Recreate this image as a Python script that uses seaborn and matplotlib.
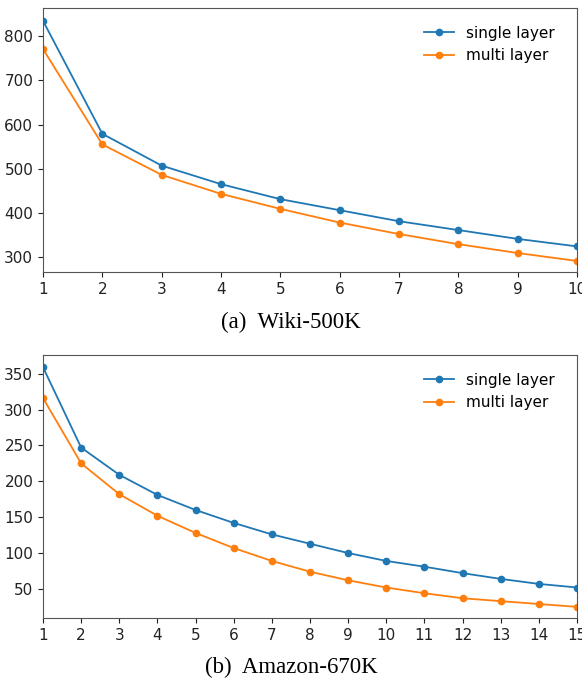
import pandas as pd
import matplotlib.pyplot as plt
import seaborn as sns

# Values
wiki_k = [1, 2, 3, 4, 5, 6, 7, 8, 9, 10]
wiki_single = [835, 579, 507, 465, 431, 406, 381, 361, 341, 324]
wiki_multi = [771, 555, 486, 443, 409, 378, 352, 329, 309, 291]

amazon_k = [1, 2, 3, 4, 5, 6, 7, 8, 9, 10, 11, 12, 13, 14, 15]
amazon_single = [359, 247, 209, 181, 160, 142, 126, 113, 100, 89, 81, 72, 64, 57, 52]
amazon_multi = [316, 225, 182, 152, 128, 107, 89, 74, 62, 52, 44, 37, 33, 29, 25]

series_names = ['single layer', 'multi layer']
palette = {'single layer': '#1f77b4', 'multi layer': '#ff7f0e'}


def to_long(k, single, multi):
    return pd.DataFrame({
        'k': k + k,
        'value': single + multi,
        'series': [series_names[0]] * len(k) + [series_names[1]] * len(k),
    })


wiki_df = to_long(wiki_k, wiki_single, wiki_multi)
amazon_df = to_long(amazon_k, amazon_single, amazon_multi)

fig = plt.figure(figsize=(5.82, 6.81), dpi=100)
W, H = 582, 681
ax1 = fig.add_axes([43 / W, 1 - 272 / H, 534 / W, 264 / H])
ax2 = fig.add_axes([43 / W, 1 - 618 / H, 534 / W, 263 / H])

panels = [
    (ax1, wiki_df, wiki_k, (266, 864), [300, 400, 500, 600, 700, 800], '(a)  Wiki-500K', 322),
    (ax2, amazon_df, amazon_k, (9.5, 376), [50, 100, 150, 200, 250, 300, 350], '(b)  Amazon-670K', 667),
]

for ax, df, k, ylim, yticks, caption, cap_y in panels:
    sns.lineplot(data=df, x='k', y='value', hue='series', hue_order=series_names,
                 palette=palette, marker='o', markersize=5.5, markeredgewidth=0,
                 linewidth=1.3, ax=ax)
    ax.set_xlim(k[0], k[-1])
    ax.set_ylim(*ylim)
    ax.set_xticks(k)
    ax.set_yticks(yticks)
    ax.set_xlabel('')
    ax.set_ylabel('')
    ax.tick_params(labelsize=11, colors='#222222')
    for s in ax.spines.values():
        s.set_color('#555555')
    ax.legend(frameon=False, fontsize=11, loc='upper right', bbox_to_anchor=(0.985, 0.985))
    fig.text(0.5, 1 - cap_y / H, caption, ha='center', va='center',
             family='Liberation Serif', fontsize=16.5)

fig.savefig('out.png', dpi=100)
